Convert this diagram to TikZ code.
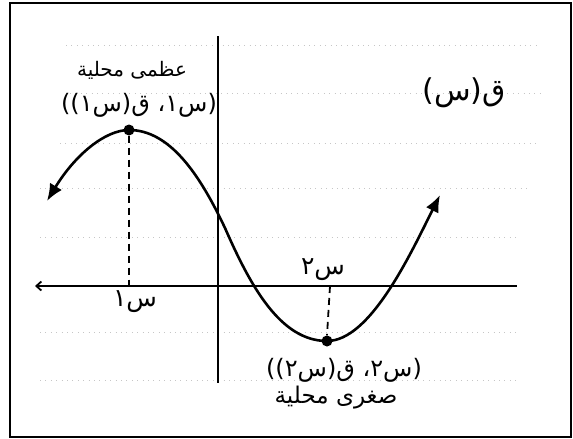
\documentclass[tikz,border=0pt]{standalone}
\usepackage{fontspec}
\usetikzlibrary{arrows.meta}
\newfontfamily\arabicfont[Script=Arabic]{DejaVu Sans}
\TeXXeTstate=1
\begin{document}
\begin{tikzpicture}[x=1pt,y=-1pt,
  namelbl/.style={font=\arabicfont\fontsize{20}{24}\selectfont, inner sep=1pt},
  minlbl/.style={font=\arabicfont\fontsize{23}{26}\selectfont, inner sep=1pt},
  ptlbl/.style={font=\arabicfont\fontsize{24}{27}\selectfont, inner sep=1pt},
  axlbl/.style={font=\arabicfont\fontsize{25}{28}\selectfont, inner sep=1pt},
  biglbl/.style={font=\arabicfont\fontsize{30}{34}\selectfont, inner sep=1pt},
  grid line/.style={gray!45, line width=0.7pt, dash pattern=on 0.9pt off 4.5pt},
  axis/.style={line width=1.8pt},
  curve/.style={line width=2.6pt, {Latex[length=17pt,width=14pt]}-{Latex[length=17pt,width=14pt]}},
  drop/.style={line width=1.8pt, dash pattern=on 7pt off 5pt},
  pt/.style={circle, fill=black, inner sep=0pt, minimum size=11pt}]
\useasboundingbox (0,0) rectangle (573,439);
\fill[white] (0,0) rectangle (573,439);
\draw[line width=1.6pt] (10,3) rectangle (571,437);
% faint dotted guide lines
\foreach \yy/\xa/\xb in {45/66/541, 93/70/540, 143/60/540, 188/40/530, 237/40/520, 286/40/515, 332/40/520, 380/40/520}
  \draw[grid line] (\xa,\yy) -- (\xb,\yy);
% axes
\coordinate (xl) at (35,286);
\coordinate (xr) at (517,286);
\coordinate (yt) at (218,36);
\coordinate (yb) at (218,383);
\draw[axis, {Straight Barb[length=5pt,width=9pt]}-] (xl) -- (xr);
\draw[axis] (yt) -- (yb);
% extrema
\node[pt] (mx) at (129,130) {};
\node[pt] (mn) at (327,341) {};
\coordinate (mxb) at (129,286);
\coordinate (mnb) at (330,286);
\draw[drop] (mx) -- (mxb);
\draw[drop] (mnb) -- (mn.north);
% curve
\coordinate (cs) at (47,201);
\coordinate (ce) at (440,195);
\coordinate (inf) at (225,228);
\draw[curve] (cs) .. controls (75,155) and (105,130) .. (mx.center)
  .. controls (170,130) and (200,175) .. (inf)
  .. controls (250,285) and (280,341) .. (mn.center)
  .. controls (370,341) and (410,255) .. (ce);
% labels
\node[namelbl] (maxname) at (132,70) {\beginR عظمى محلية\endR};
\node[ptlbl] (maxpt) at (139,105) {\beginR (س١، ق(س١))\endR};
\node[biglbl] (fx) at (464,93) {\beginR ق(س)\endR};
\node[axlbl] (x1) at (135,302) {\beginR س١\endR};
\node[axlbl] (x2) at (323,270) {\beginR س٢\endR};
\node[ptlbl] (minpt) at (344,370) {\beginR (س٢، ق(س٢))\endR};
\node[minlbl] (minname) at (336,398) {\beginR صغرى محلية\endR};
\end{tikzpicture}
\end{document}
